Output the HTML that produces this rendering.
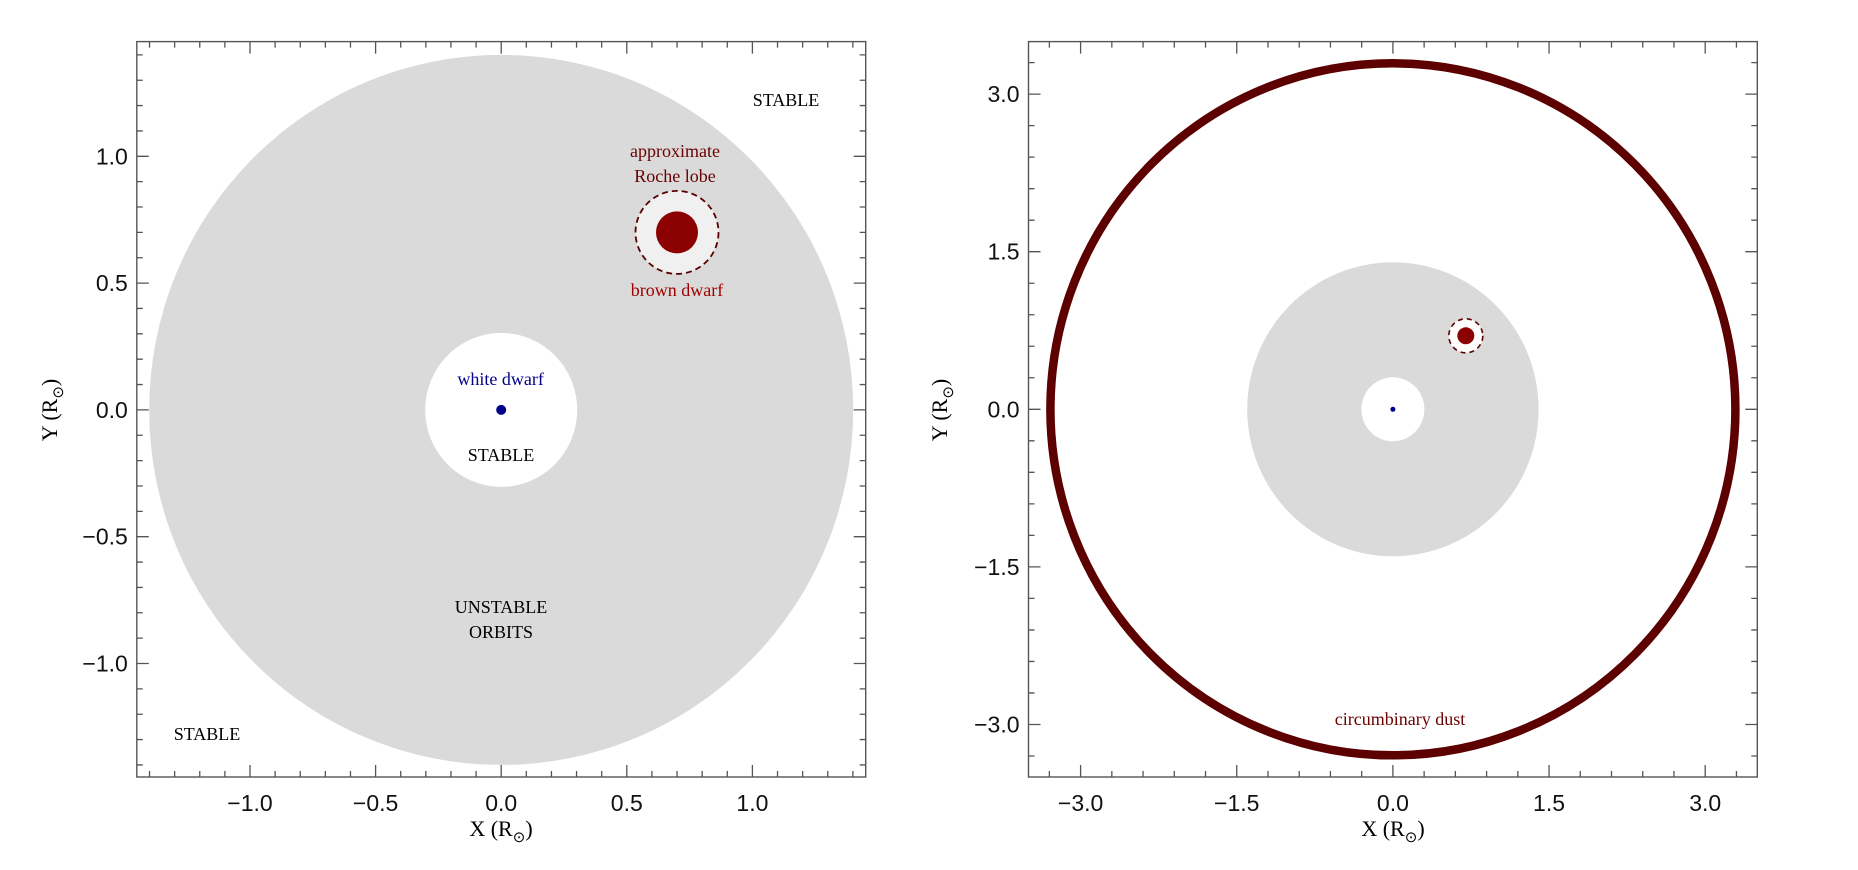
<!DOCTYPE html>
<html><head><meta charset="utf-8"><style>
html,body{margin:0;padding:0;background:#fff;}
svg{display:block;}
text{font-family:"Liberation Serif",serif;}
.tk{font-family:"Liberation Sans",sans-serif;font-size:23px;fill:#111;}
.lb{font-size:18px;fill:#000;text-anchor:middle;}
</style></head><body>
<svg id="s" width="1858" height="870" viewBox="0 0 1858 870" xmlns="http://www.w3.org/2000/svg">
<!-- Left panel -->
<ellipse cx="501.2" cy="409.9" rx="352" ry="355" fill="#dadada"/>
<ellipse cx="501.2" cy="409.9" rx="76" ry="77" fill="#fff"/>
<circle cx="501.2" cy="409.9" r="5" fill="#00008b"/>
<circle cx="677" cy="232.4" r="41.5" fill="#f0f0f0" stroke="#5a0000" stroke-width="1.8" stroke-dasharray="6,4"/>
<circle cx="677" cy="232.4" r="21" fill="#8b0000"/>
<text class="lb" x="786" y="106">STABLE</text>
<text class="lb" x="675" y="157" style="fill:#6b0000">approximate</text>
<text class="lb" x="675" y="182" style="fill:#6b0000">Roche lobe</text>
<text class="lb" x="677" y="296" style="fill:#a00000">brown dwarf</text>
<text class="lb" x="500.6" y="385" style="fill:#00008b">white dwarf</text>
<text class="lb" x="501" y="461">STABLE</text>
<text class="lb" x="501" y="613">UNSTABLE</text>
<text class="lb" x="501" y="638">ORBITS</text>
<text class="lb" x="207" y="740">STABLE</text>
<text x="501" y="836" text-anchor="middle" style="font-size:22px">X (R<tspan dy="6" font-size="15">⊙</tspan><tspan dy="-6">)</tspan></text>
<text transform="translate(57,410) rotate(-90)" text-anchor="middle" style="font-size:22px">Y (R<tspan dy="6" font-size="15">⊙</tspan><tspan dy="-6">)</tspan></text>
<!-- Right panel -->
<ellipse cx="1392.9" cy="409.3" rx="145.7" ry="147" fill="#dadada"/>
<ellipse cx="1392.9" cy="409.3" rx="31.5" ry="32" fill="#fff"/>
<circle cx="1392.9" cy="409.3" r="2.5" fill="#00008b"/>
<circle cx="1465.8" cy="335.8" r="17" fill="#fff" stroke="#5a0000" stroke-width="1.6" stroke-dasharray="5,4"/>
<circle cx="1465.8" cy="335.8" r="8.5" fill="#8b0000"/>
<ellipse cx="1392.9" cy="409.3" rx="342.5" ry="346" fill="none" stroke="#5c0000" stroke-width="8.5"/>
<text class="lb" x="1400" y="725" style="fill:#6b0000">circumbinary dust</text>
<text x="1393" y="836" text-anchor="middle" style="font-size:22px">X (R<tspan dy="6" font-size="15">⊙</tspan><tspan dy="-6">)</tspan></text>
<text transform="translate(947,410) rotate(-90)" text-anchor="middle" style="font-size:22px">Y (R<tspan dy="6" font-size="15">⊙</tspan><tspan dy="-6">)</tspan></text>
<g id="g"></g>
</svg>
<script>
var NS="http://www.w3.org/2000/svg",g=document.getElementById('g');
function el(t,a,txt){var e=document.createElementNS(NS,t);for(var k in a)e.setAttribute(k,a[k]);if(txt)e.textContent=txt;g.appendChild(e);}
function panel(x0,x1,y0,y1,cx,sx,cy,sy,lim,minor,major,fmt){
 el('rect',{x:x0,y:y0,width:x1-x0,height:y1-y0,fill:'none',stroke:'#555','stroke-width':1.4});
 var d='';
 var n=Math.round(lim/minor);
 for(var i=-n;i<=n;i++){var v=i*minor;var isM=Math.abs(v/major-Math.round(v/major))<1e-6;var L=isM?12:6;
  var X=cx+sx*v; if(X>x0+0.5&&X<x1-0.5){d+='M'+X+' '+y1+'v'+(-L)+'M'+X+' '+y0+'v'+L;
   if(isM)el('text',{x:X,y:811,'text-anchor':'middle','class':'tk'},fmt(v));}
  var Y=cy-sy*v; if(Y>y0+0.5&&Y<y1-0.5){d+='M'+x0+' '+Y+'h'+L+'M'+x1+' '+Y+'h'+(-L);
   if(isM)el('text',{x:x0-9,y:Y+8,'text-anchor':'end','class':'tk'},fmt(v));}
 }
 el('path',{d:d,stroke:'#555','stroke-width':1.3,fill:'none'});
}
function f(v){var s=Math.abs(v).toFixed(1);return (v<-1e-9?'\u2212':'')+s;}
panel(136.8,865.7,41.6,777,501.2,251.2,409.9,253.6,1.45,0.1,0.5,f);
panel(1028.5,1757.3,41.6,777,1392.9,104.1,409.3,105.06,3.5,0.3,1.5,f);
</script>
</body></html>
